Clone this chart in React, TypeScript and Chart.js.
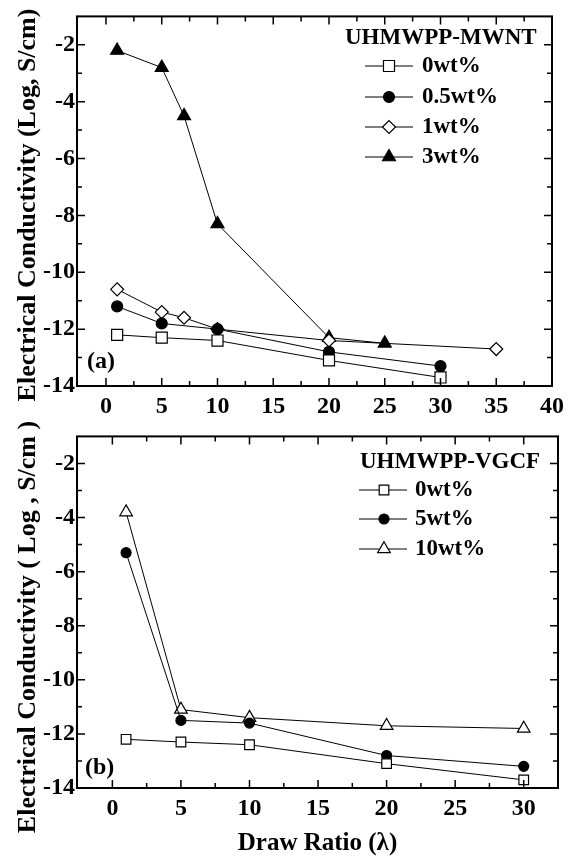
import React, { useEffect, useRef } from 'react';
import { Chart, registerables } from 'chart.js';
import { drawPoint } from 'chart.js/helpers';

Chart.register(...registerables);

const FONT = '"Liberation Serif", "Times New Roman", serif';

// ---------- Panel (a): UHMWPP-MWNT ----------
const ratioA0 = [1, 5, 10, 20, 30];
const condA0 = [-12.2, -12.3, -12.4, -13.1, -13.7];
const ratioA05 = [1, 5, 10, 20, 30];
const condA05 = [-11.2, -11.8, -12.0, -12.8, -13.3];
const ratioA1 = [1, 5, 7, 10, 20, 35];
const condA1 = [-10.6, -11.4, -11.6, -12.0, -12.4, -12.7];
const ratioA3 = [1, 5, 7, 10, 20, 25];
const condA3 = [-2.2, -2.8, -4.5, -8.3, -12.3, -12.5];
const labelsA = ['0wt%', '0.5wt%', '1wt%', '3wt%'];

// ---------- Panel (b): UHMWPP-VGCF ----------
const ratioB = [1, 5, 10, 20, 30];
const condB0 = [-12.2, -12.3, -12.4, -13.1, -13.7];
const condB5 = [-5.3, -11.5, -11.6, -12.8, -13.2];
const condB10 = [-3.8, -11.1, -11.4, -11.7, -11.8];
const labelsB = ['0wt%', '5wt%', '10wt%'];

// ---------- Axes ----------
const xTicksA = [0, 5, 10, 15, 20, 25, 30, 35, 40];
const xTicksB = [0, 5, 10, 15, 20, 25, 30];
const yTicks = [-14, -12, -10, -8, -6, -4, -2];

const pts = (xs: number[], ys: number[]) => xs.map((x, i) => ({ x, y: ys[i] }));

const series = (label: string, xs: number[], ys: number[], style: string, r: number, filled: boolean) => ({
  label,
  data: pts(xs, ys),
  borderColor: '#000',
  borderWidth: 1,
  pointStyle: style,
  pointRadius: r,
  pointBackgroundColor: filled ? '#000' : '#fff',
  pointBorderColor: '#000',
  pointBorderWidth: 1.2,
  showLine: true,
  fill: false,
  tension: 0,
});

const mids = (vals: number[]) => {
  const out: number[] = [];
  for (let i = 0; i < vals.length - 1; i++) out.push((vals[i] + vals[i + 1]) / 2);
  return out;
};

const framePlugin = {
  id: 'frameTicks',
  afterDatasetsDraw(chart: any, _args: any, opts: any) {
    const { ctx, chartArea: a, scales } = chart;
    const xs = scales.x, ys = scales.y;
    const xMaj = xs.ticks.map((t: any) => t.value);
    const yMaj = ys.ticks.map((t: any) => t.value);
    const xMin = mids(xMaj);
    const yMin = mids(yMaj);
    ctx.save();
    ctx.strokeStyle = '#000';
    ctx.lineWidth = 1.5;
    const tickX = (v: number, len: number) => {
      const p = xs.getPixelForValue(v);
      if (p < a.left + 1 || p > a.right - 1) return;
      ctx.beginPath();
      ctx.moveTo(p, a.bottom); ctx.lineTo(p, a.bottom - len);
      ctx.moveTo(p, a.top); ctx.lineTo(p, a.top + len);
      ctx.stroke();
    };
    const tickY = (v: number, len: number) => {
      const p = ys.getPixelForValue(v);
      if (p < a.top + 1 || p > a.bottom - 1) return;
      ctx.beginPath();
      ctx.moveTo(a.left, p); ctx.lineTo(a.left + len, p);
      ctx.moveTo(a.right, p); ctx.lineTo(a.right - len, p);
      ctx.stroke();
    };
    xMaj.forEach((v: number) => tickX(v, 8));
    xMin.forEach((v: number) => tickX(v, 5));
    yMaj.forEach((v: number) => tickY(v, 8));
    yMin.forEach((v: number) => tickY(v, 5));
    ctx.lineWidth = 2;
    ctx.strokeRect(a.left, a.top, a.right - a.left, a.bottom - a.top);

    // legend
    ctx.fillStyle = '#000';
    ctx.font = `bold ${opts.fontSize}px ${FONT}`;
    ctx.textBaseline = 'middle';
    ctx.textAlign = 'left';
    ctx.fillText(opts.title, opts.titleX, opts.titleY);
    chart.data.datasets.forEach((ds: any, i: number) => {
      const y = opts.rowY[i];
      ctx.lineWidth = 1;
      ctx.strokeStyle = '#000';
      ctx.beginPath();
      ctx.moveTo(opts.lineX1, y); ctx.lineTo(opts.lineX2, y);
      ctx.stroke();
      ctx.fillStyle = ds.pointBackgroundColor;
      ctx.strokeStyle = ds.pointBorderColor;
      ctx.lineWidth = ds.pointBorderWidth;
      drawPoint(ctx, { pointStyle: ds.pointStyle, radius: ds.pointRadius, borderWidth: ds.pointBorderWidth, rotation: 0 }, opts.markerX, y);
      ctx.fillStyle = '#000';
      ctx.fillText(ds.label, opts.textX, y);
    });
    // panel label
    ctx.font = `bold 24px ${FONT}`;
    ctx.fillText(opts.panel, opts.panelX, opts.panelY);

    // y axis title
    ctx.save();
    ctx.translate(opts.yTitleX, opts.yTitleY);
    ctx.rotate(-Math.PI / 2);
    ctx.textAlign = 'center';
    ctx.textBaseline = 'middle';
    ctx.font = `bold 26px ${FONT}`;
    ctx.fillText(opts.yTitle, 0, 0);
    ctx.restore();
    ctx.restore();
  },
};

const makeConfig = (p: any) => ({
  type: 'line',
  data: { datasets: p.datasets },
  options: {
    responsive: false,
    animation: false,
    events: [],
    layout: { padding: { top: p.padTop, right: 12, left: 0, bottom: 0 } },
    plugins: {
      legend: { display: false },
      tooltip: { enabled: false },
      frameTicks: p.legend,
    },
    scales: {
      x: {
        type: 'linear',
        min: p.xMin,
        max: p.xMax,
        grid: { display: false, drawTicks: false },
        border: { display: false },
        ticks: { color: '#000', font: { family: FONT, size: 24, weight: 'bold' }, padding: 6 },
        afterBuildTicks: (s: any) => { s.ticks = p.xTicks.map((v: number) => ({ value: v })); },
        afterFit: (s: any) => { s.height = p.xHeight; },
        title: p.xTitle
          ? { display: true, text: p.xTitle, color: '#000', font: { family: FONT, size: 25, weight: 'bold' }, padding: { top: 0, bottom: 0 } }
          : { display: false },
      },
      y: {
        type: 'linear',
        min: -14,
        max: -1,
        grid: { display: false, drawTicks: false },
        border: { display: false },
        ticks: { color: '#000', font: { family: FONT, size: 24, weight: 'bold' }, padding: 2 },
        afterBuildTicks: (s: any) => { s.ticks = yTicks.map((v) => ({ value: v })); },
        afterFit: (s: any) => { s.width = 77; },
        title: { display: false },
      },
    },
  },
  plugins: [framePlugin],
});

function Panel({ config, width, height }: { config: any; width: number; height: number }) {
  const ref = useRef<HTMLCanvasElement | null>(null);
  useEffect(() => {
    if (!ref.current) return;
    const chart = new Chart(ref.current, config);
    return () => chart.destroy();
  }, [config]);
  return <canvas ref={ref} width={width} height={height} style={{ display: 'block', width, height }} />;
}

const configA = makeConfig({
  datasets: [
    series(labelsA[0], ratioA0, condA0, 'rect', 7.8, false),
    series(labelsA[1], ratioA05, condA05, 'circle', 5.5, true),
    series(labelsA[2], ratioA1, condA1, 'rectRot', 6.5, false),
    series(labelsA[3], ratioA3, condA3, 'triangle', 7.5, true),
  ],
  padTop: 9,
  xMin: -2.6,
  xMax: 40,
  xTicks: xTicksA,
  xHeight: 34,
  legend: {
    title: 'UHMWPP-MWNT', titleX: 345, titleY: 38, fontSize: 23,
    rowY: [66, 97, 127, 157], lineX1: 365, lineX2: 413, markerX: 389, textX: 422,
    panel: '(a)', panelX: 87, panelY: 362,
    yTitle: 'Electrical Conductivity (Log, S/cm)', yTitleX: 28, yTitleY: 205,
  },
});

const configB = makeConfig({
  datasets: [
    series(labelsB[0], ratioB, condB0, 'rect', 6.8, false),
    series(labelsB[1], ratioB, condB5, 'circle', 5, true),
    series(labelsB[2], ratioB, condB10, 'triangle', 7.3, false),
  ],
  padTop: 13,
  xMin: -2.58,
  xMax: 32.5,
  xTicks: xTicksB,
  xHeight: 71,
  xTitle: 'Draw Ratio (λ)',
  legend: {
    title: 'UHMWPP-VGCF', titleX: 360, titleY: 42, fontSize: 23,
    rowY: [70, 99, 129], lineX1: 359, lineX2: 407, markerX: 384, textX: 415,
    panel: '(b)', panelX: 85, panelY: 348,
    yTitle: 'Electrical Conductivity ( Log , S/cm )', yTitleX: 28, yTitleY: 207,
  },
});

export default function App() {
  return (
    <div style={{ position: 'absolute', left: 0, top: 0, width: 570, height: 859, background: '#fff' }}>
      <Panel config={configA} width={570} height={420} />
      <Panel config={configB} width={570} height={439} />
    </div>
  );
}
